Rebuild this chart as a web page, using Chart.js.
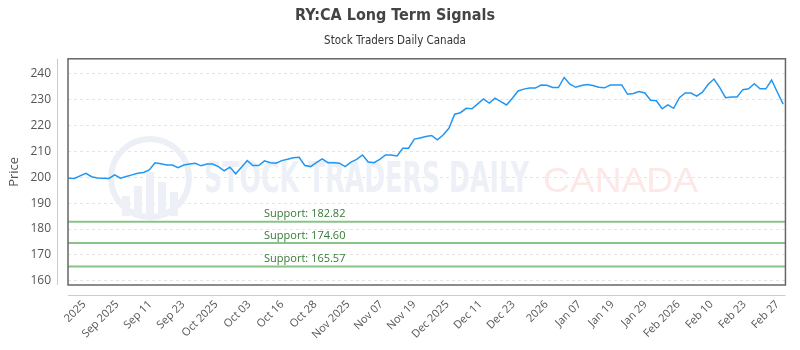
<!DOCTYPE html>
<html>
<head>
<meta charset="utf-8">
<script src="https://cdn.jsdelivr.net/npm/chart.js@4.4.1/dist/chart.umd.min.js"></script>
<style>
  html, body { margin: 0; padding: 0; background: #fff; }
</style>
</head>
<body>
<canvas id="lineChart" width="800" height="350"></canvas>
<script>
// Closing prices, one per session
const prices = [
  199.6, 199.5, 200.5, 201.5, 200.2, 199.7, 199.6, 199.5, 200.9, 199.6,
  200.3, 200.9, 201.5, 201.8, 202.8, 205.6, 205.2, 204.7, 204.7, 203.7,
  204.7, 205.1, 205.4, 204.4, 205.1, 205.1, 204.1, 202.5, 203.9, 201.3,
  203.8, 206.4, 204.5, 204.5, 206.3, 205.6, 205.4, 206.4, 206.9, 207.5,
  207.7, 204.5, 204.1, 205.6, 207.1, 205.6, 205.6, 205.4, 204.1, 205.8,
  206.9, 208.6, 205.9, 205.6, 206.9, 208.6, 208.6, 208.2, 211.2, 211.2,
  214.7, 215.1, 215.7, 216.1, 214.4, 216.3, 218.9, 224.3, 224.9, 226.6,
  226.4, 228.3, 230.2, 228.6, 230.5, 229.2, 227.9, 230.5, 233.3, 234.0,
  234.4, 234.4, 235.6, 235.5, 234.6, 234.6, 238.5, 235.9, 234.7, 235.4,
  235.8, 235.4, 234.7, 234.5, 235.6, 235.6, 235.6, 232.0, 232.3, 233.1,
  232.5, 229.7, 229.5, 226.4, 227.9, 226.6, 230.7, 232.5, 232.5, 231.3,
  232.8, 235.9, 237.9, 234.6, 230.7, 231.0, 231.0, 233.8, 234.1, 236.1,
  234.1, 234.1, 237.5, 232.8, 228.2
];

const tickLabels = [
  '2025', 'Sep 2025', 'Sep 11', 'Sep 23', 'Oct 2025', 'Oct 03', 'Oct 16',
  'Oct 28', 'Nov 2025', 'Nov 07', 'Nov 19', 'Dec 2025', 'Dec 11', 'Dec 23',
  '2026', 'Jan 07', 'Jan 19', 'Jan 29', 'Feb 2026', 'Feb 10', 'Feb 23', 'Feb 27'
];

const yTicks = [160, 170, 180, 190, 200, 210, 220, 230, 240];

const supportLevels = [182.82, 174.60, 165.57];

const xMin = -0.1;
const xMax = prices.length - 1 + 0.4;
const xTickStart = 2.7;
const xTickStep = 5.73;

const narrowFont = "'Liberation Sans Narrow', 'DejaVu Sans Condensed', sans-serif";
const tickFont = "'Open Sans', sans-serif";

function drawWatermark(ctx) {
  ctx.save();
  // round logo
  ctx.strokeStyle = '#eceff5';
  ctx.lineWidth = 6;
  ctx.beginPath();
  ctx.arc(150, 178, 39, 0, Math.PI * 2);
  ctx.stroke();
  ctx.fillStyle = '#edf0f6';
  const bars = [[122, 196, 8], [134, 186, 8], [146, 172, 8], [158, 182, 8], [170, 192, 8]];
  bars.forEach(b => ctx.fillRect(b[0], b[1], b[2], 216 - b[1]));

  // text
  ctx.textBaseline = 'alphabetic';
  ctx.font = 'bold 42px ' + narrowFont;
  let text = 'STOCK TRADERS DAILY';
  let w = ctx.measureText(text).width;
  ctx.fillStyle = '#edf1f7';
  ctx.translate(204, 192);
  ctx.scale(325 / w, 1);
  ctx.fillText(text, 0, 0);
  ctx.setTransform(1, 0, 0, 1, 0, 0);

  ctx.font = '35px "Liberation Sans", sans-serif';
  text = 'CANADA';
  w = ctx.measureText(text).width;
  ctx.fillStyle = '#fde8e8';
  ctx.translate(543, 192);
  ctx.scale(155 / w, 1);
  ctx.fillText(text, 0, 0);
  ctx.restore();
}

const framePlugin = {
  id: 'frame',
  beforeDatasetsDraw(chart) {
    drawWatermark(chart.ctx);
  },
  afterDatasetsDraw(chart) {
    const ctx = chart.ctx;
    const a = chart.chartArea;
    const yScale = chart.scales.y;
    ctx.save();

    // support labels
    ctx.font = '11px ' + tickFont;
    ctx.fillStyle = '#357a35';
    ctx.textAlign = 'center';
    ctx.textBaseline = 'bottom';
    const labelX = a.left + (a.right - a.left) * 0.33;
    supportLevels.forEach(level => {
      const y = yScale.getPixelForValue(level);
      ctx.fillText('Support: ' + level.toFixed(2), labelX, y - 2);
    });

    // light axis lines, set off from the plot box
    ctx.strokeStyle = '#cccccc';
    ctx.lineWidth = 1;
    ctx.beginPath();
    ctx.moveTo(a.left - 10.5, a.top);
    ctx.lineTo(a.left - 10.5, a.bottom);
    ctx.moveTo(a.left, a.bottom + 10.5);
    ctx.lineTo(a.right, a.bottom + 10.5);
    ctx.stroke();

    // plot box
    ctx.strokeStyle = '#666666';
    ctx.lineWidth = 1.5;
    ctx.strokeRect(a.left, a.top, a.right - a.left, a.bottom - a.top);
    ctx.restore();
  }
};

const datasets = [
  {
    label: 'Price',
    data: prices.map((p, i) => ({ x: i, y: p })),
    borderColor: '#2196f3',
    borderWidth: 1.5,
    pointRadius: 0,
    tension: 0
  }
].concat(supportLevels.map(level => ({
  label: 'Support ' + level,
  data: [{ x: xMin, y: level }, { x: xMax, y: level }],
  borderColor: 'rgba(125, 188, 125, 0.9)',
  borderWidth: 2,
  pointRadius: 0
})));

const ctx = document.getElementById('lineChart').getContext('2d');
new Chart(ctx, {
  type: 'line',
  data: { datasets: datasets },
  plugins: [framePlugin],
  options: {
    responsive: false,
    animation: false,
    layout: { padding: { left: 0, right: 10, top: 0, bottom: 0 } },
    plugins: {
      legend: { display: false },
      tooltip: { enabled: false },
      title: {
        display: true,
        text: 'RY:CA Long Term Signals',
        color: '#444',
        font: { family: narrowFont, size: 16, weight: 'bold' },
        padding: { top: 6, bottom: 9.4 }
      },
      subtitle: {
        display: true,
        text: 'Stock Traders Daily Canada',
        color: '#333',
        font: { family: narrowFont, size: 11.5 },
        padding: { top: 0, bottom: 10.4 }
      }
    },
    scales: {
      x: {
        type: 'linear',
        min: xMin,
        max: xMax,
        grid: { display: false, drawTicks: false },
        border: { display: false },
        afterBuildTicks: (axis) => {
          axis.ticks = tickLabels.map((l, i) => ({ value: xTickStart + i * xTickStep }));
        },
        afterFit: (scale) => { scale.height = 65; },
        ticks: {
          autoSkip: false,
          maxRotation: 45,
          minRotation: 45,
          padding: 13,
          color: '#555',
          font: { family: tickFont, size: 11 },
          callback: (value, index) => tickLabels[index]
        }
      },
      y: {
        min: 158.4,
        max: 245.7,
        grid: { color: '#e4e4e4', drawTicks: false },
        border: { display: false, dash: [3, 3] },
        afterBuildTicks: (axis) => {
          axis.ticks = yTicks.map(v => ({ value: v }));
        },
        afterFit: (scale) => { scale.width = 68; },
        title: {
          display: true,
          text: 'Price',
          color: '#555',
          font: { family: tickFont, size: 13 },
          padding: { top: 6, bottom: 0 }
        },
        ticks: {
          padding: 17,
          color: '#555',
          font: { family: tickFont, size: 12 }
        }
      }
    }
  }
});
</script>
</body>
</html>
